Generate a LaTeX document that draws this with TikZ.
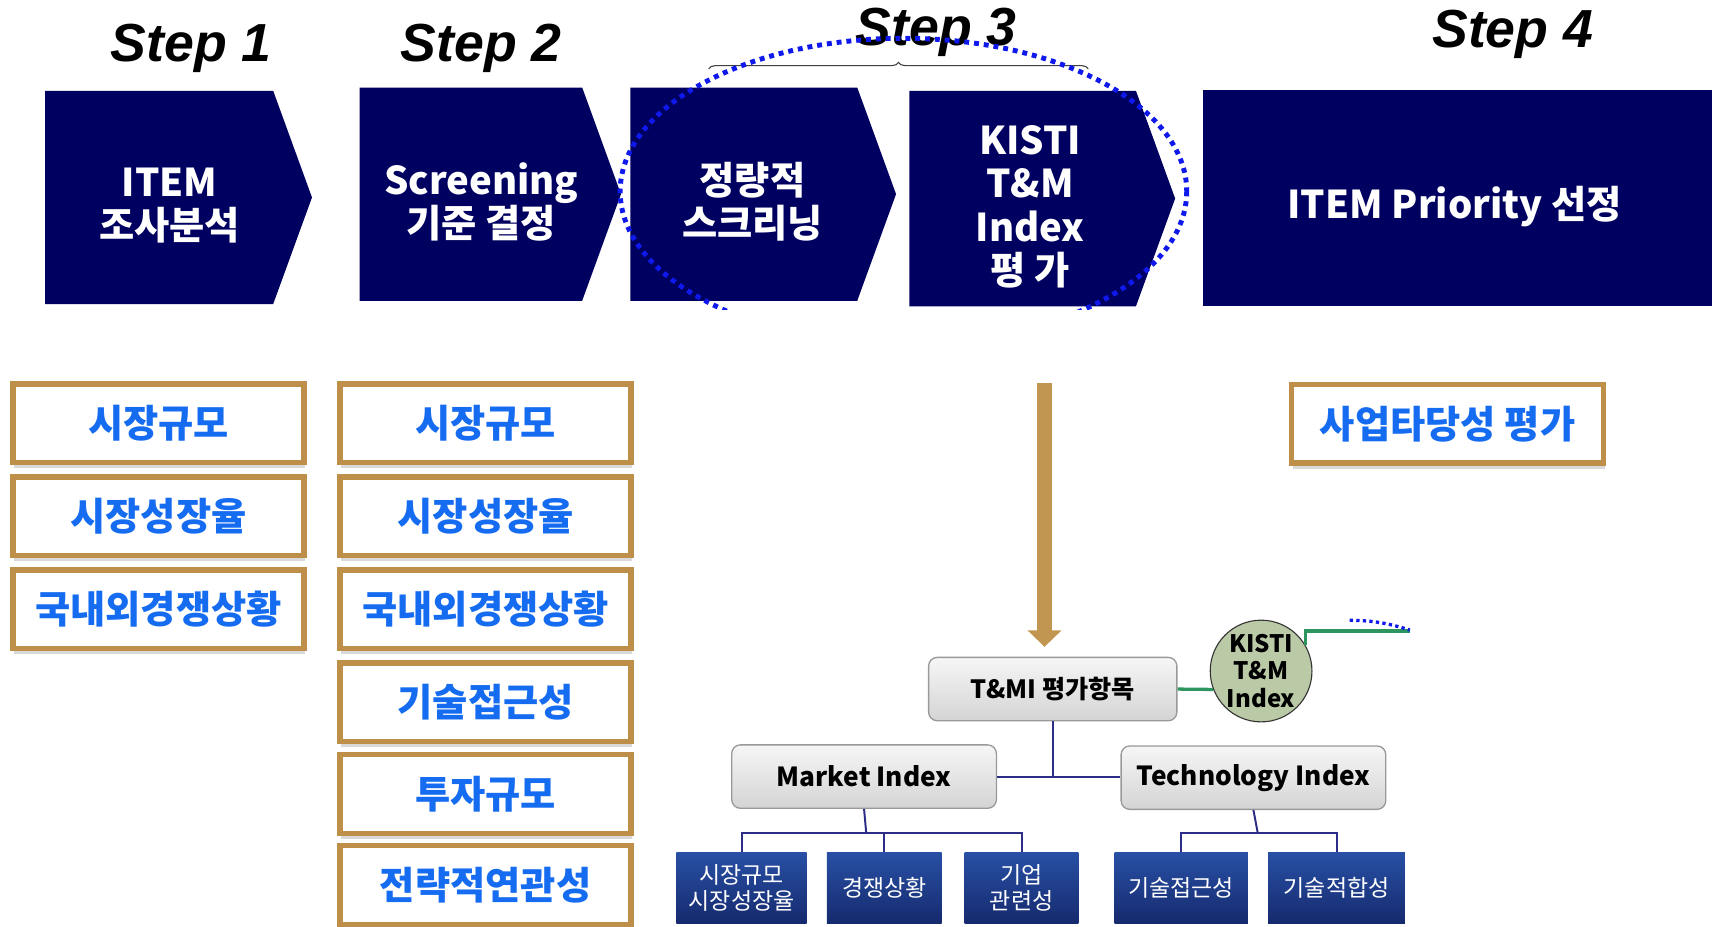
\documentclass[tikz,border=0pt]{standalone}
\usepackage{fontspec}
\setmainfont{Noto Sans CJK KR}
\newfontfamily\titlefont{Liberation Sans}
\usepackage{xcolor}
\usepackage{tikz}
\usetikzlibrary{shapes.symbols, arrows.meta, shadows, decorations.pathreplacing}
\definecolor{stepnavy}{RGB}{0,0,96}
\definecolor{boxgold}{RGB}{190,143,72}
\definecolor{critblue}{RGB}{22,108,240}
\definecolor{ringblue}{RGB}{15,25,235}
\definecolor{treenavy}{RGB}{45,45,135}
\definecolor{leaftop}{RGB}{40,80,165}
\definecolor{leafbot}{RGB}{22,42,110}
\definecolor{kistigreen}{RGB}{186,201,166}
\definecolor{linkgreen}{RGB}{45,150,95}
\definecolor{greyhi}{RGB}{246,246,246}
\definecolor{greylo}{RGB}{212,212,212}
\definecolor{arrowgold}{RGB}{193,150,80}
\tikzset{
    chevron/.style={signal, signal to=east, signal pointer angle=140, fill=stepnavy, inner sep=0pt},
    banner/.style={rectangle, fill=stepnavy, inner sep=0pt},
    chevtext/.style={text=white, align=center, inner sep=2pt, font=\bfseries\fontsize{35}{39.5}\selectfont},
    steptitle/.style={anchor=base, font=\titlefont\bfseries\itshape\fontsize{49}{55}\selectfont},
    critbox/.style={rectangle, draw=boxgold, line width=5pt, fill=white, minimum width=266pt, minimum height=72pt, inner sep=2pt, text=critblue, font=\bfseries\fontsize{35}{40}\selectfont, drop shadow={shadow xshift=1pt, shadow yshift=-5pt, opacity=0.3}},
    treebox/.style={rectangle, rounded corners=8pt, draw=gray!80, line width=1.2pt, top color=greyhi, bottom color=greylo, minimum width=242pt, minimum height=58pt, inner sep=2pt, font=\bfseries\fontsize{24}{28}\selectfont},
    leaf/.style={rectangle, top color=leaftop, bottom color=leafbot, text=white, minimum height=65pt, inner sep=2pt, align=center, font=\fontsize{21}{24}\selectfont},
    kistinode/.style={circle, draw=black!80, line width=1pt, fill=kistigreen, minimum size=93pt, inner sep=0pt, align=center, font=\bfseries\fontsize{22}{25.5}\selectfont},
    treeline/.style={draw=treenavy, line width=1.8pt},
    greenline/.style={draw=linkgreen, line width=3pt},
    goldarrow/.style={draw=arrowgold, line width=13pt, -{Triangle[width=30pt, length=15pt]}},
    dotring/.style={draw=ringblue, line width=4.5pt, dash pattern=on 4.5pt off 4.5pt},
    stepbrace/.style={draw=black!75, line width=1pt, decorate, decoration={brace, amplitude=6pt}}
}

\begin{document}
\begin{tikzpicture}[x=1pt, y=-1pt]
    \useasboundingbox (0,0) rectangle (1568,847);

    % Step titles
    \node[steptitle] (t1) at (175,56) {Step 1};
    \node[steptitle] (t2) at (440,56) {Step 2};
    \node[steptitle] (t3) at (856,42) {Step 3};
    \node[steptitle] (t4) at (1383,43) {Step 4};

    % Process chevrons
    \node[chevron, minimum width=244pt, minimum height=195pt] (c1) at (145.5,180.5) {};
    \node[chevron, minimum width=239pt, minimum height=195pt] (c2) at (430.5,177.5) {};
    \node[chevron, minimum width=243pt, minimum height=195pt] (c3) at (680,177.5) {};
    \node[chevron, minimum width=243pt, minimum height=197pt] (c4) at (935,181.5) {};
    \node[banner, minimum width=465pt, minimum height=198pt] (c5) at (1332.5,181) {};
    \node[chevtext] (c1t) at (155,188) {ITEM\\조사분석};
    \node[chevtext] (c2t) at (440,184.5) {Screening\\기준 결정};
    \node[chevtext] (c3t) at (688,184.5) {정량적\\스크리닝};
    \node[chevtext] (c4t) at (942,189) {KISTI\\T\&M\\Index\\평 가};
    \node[chevtext] (c5t) at (1330,189) {ITEM Priority 선정};

    % Step 3 brace and ring
    \coordinate (bl) at (648,63);
    \coordinate (br) at (995,63);
    \draw[stepbrace] (bl) -- (br);
    \begin{scope}
        \clip (0,0) rectangle (1568,283);
        \draw[dotring] (826,175) ellipse [x radius=259, y radius=140];
    \end{scope}

    % Criteria, step 1
    \node[critbox] (a1) at (145,387) {시장규모};
    \node[critbox] (a2) at (145,472) {시장성장율};
    \node[critbox] (a3) at (145,557) {국내외경쟁상황};

    % Criteria, step 2
    \node[critbox] (b1) at (444,387) {시장규모};
    \node[critbox] (b2) at (444,472) {시장성장율};
    \node[critbox] (b3) at (444,557) {국내외경쟁상황};
    \node[critbox] (b4) at (444,642) {기술접근성};
    \node[critbox] (b5) at (444,726) {투자규모};
    \node[critbox] (b6) at (444,809) {전략적연관성};

    % Step 4
    \node[critbox, minimum width=285pt] (d1) at (1323.5,387.5) {사업타당성 평가};

    % T&M Index tree
    \coordinate (arrtop) at (955,350);
    \node[treebox, minimum width=227pt, font=\bfseries\fontsize{23}{27}\selectfont] (tmi) at (962.5,630) {T\&MI 평가항목};
    \node[kistinode] (kisti) at (1153,613.5) {KISTI\\T\&M\\Index};
    \node[treebox] (market) at (790,710) {Market Index};
    \node[treebox] (tech) at (1146,711) {Technology Index};
    \node[leaf, minimum width=119pt] (leafA) at (678,811.5) {시장규모\\시장성장율};
    \node[leaf, minimum width=105pt] (leafB) at (808.5,811.5) {경쟁상황};
    \node[leaf, minimum width=104pt] (leafC) at (934,811.5) {기업\\관련성};
    \node[leaf, minimum width=122pt] (leafD) at (1080,811.5) {기술접근성};
    \node[leaf, minimum width=125pt] (leafE) at (1222,811.5) {기술적합성};

    \draw[goldarrow, shorten >=9pt] (arrtop) -- (arrtop |- tmi.north);

    \coordinate (mbus) at (792,762);
    \coordinate (tbus) at (1150,762);
    \coordinate (gend) at (1289,577);
    \coordinate (dotA) at (1234,567);
    \coordinate (dotB) at (1289,576);

    \draw[treeline] (tmi.south) -- (tmi.south |- market.east);
    \draw[treeline] (market.east) -- (tech.west |- market.east);
    \draw[treeline] (market.south) -- (mbus);
    \draw[treeline] (leafA.north) |- (leafC.north |- mbus) -- (leafC.north);
    \draw[treeline] (leafB.north) -- (leafB.north |- mbus);
    \draw[treeline] (tech.south) -- (tbus);
    \draw[treeline] (leafD.north) |- (leafE.north |- tbus) -- (leafE.north);
    \draw[greenline] (tmi.east) -- (kisti.201);
    \draw[greenline] (kisti.31) |- (gend);
    \draw[dotring, line width=3pt, dash pattern=on 3pt off 3pt] (dotA) to[bend left=8] (dotB);
\end{tikzpicture}
\end{document}
